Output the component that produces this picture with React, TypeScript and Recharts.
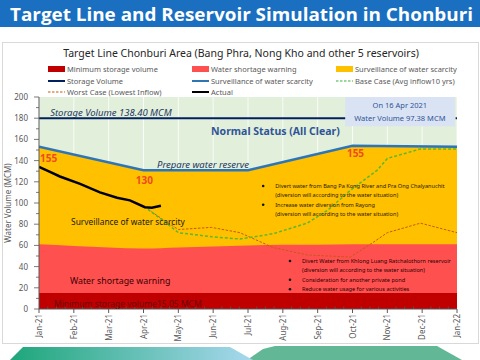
import {
  ComposedChart,
  Area,
  Line,
  XAxis,
  YAxis,
  CartesianGrid,
  ReferenceLine,
  ReferenceArea,
  ReferenceDot,
} from 'recharts';

// x values are months since 1 Jan 2021 (0 = Jan-21, 12 = Jan-22)
const monthLabels = ['Jan-21', 'Feb-21', 'Mar-21', 'Apr-21', 'May-21', 'Jun-21', 'Jul-21', 'Aug-21', 'Sep-21', 'Oct-21', 'Nov-21', 'Dec-21', 'Jan-22'];
const yTicks = [0, 10, 20, 30, 40, 50, 60, 70, 80, 90, 100, 110, 120, 130, 140, 150, 160, 170, 180, 190, 200];

// upper target line (Surveillance of water scarcity)
const targetMonths = [0, 3, 6, 9, 12];
const targetVolume = [153, 131, 131, 154, 153];

// upper edge of the water shortage warning zone
const warnMonths = [0, 1, 2, 3, 4, 5, 6, 7, 8, 9, 10, 11, 12];
const warnVolume = [61, 59.5, 58, 57, 58, 59, 60, 60.5, 60.5, 61, 61, 61, 61];

const minMonths = [0, 12];
const minVolume = [15.05, 15.05];

const storageVolume = 180;

const actualMonths = [0, 0.3, 0.6, 1.18, 1.75, 2.24, 2.61, 3.04, 3.24, 3.5];
const actualVolume = [134, 129.5, 125, 118, 110, 105, 102.5, 96, 95.5, 97.38];

const baseMonths = [3.13, 3.62, 4.0, 5.0, 5.77, 6.72, 7.7, 8.28, 8.94, 9.71, 10.0, 10.95, 12];
const baseVolume = [94, 82, 72, 68, 66, 71, 81, 93, 112, 131, 142, 151, 151];

const worstMonths = [3.13, 3.62, 4.0, 4.95, 5.77, 6.72, 7.7, 8.94, 9.6, 10.0, 10.95, 12];
const worstVolume = [94, 83, 75, 77, 72, 58, 51, 49, 63, 72, 81, 72];

const yellowActions = [
  'Divert water from Bang Pa Kong River and Pra Ong Chalyanuchit',
  '(diversion will according to the water situation)',
  'Increase water diversion from Rayong',
  '(diversion will according to the water situation)',
];
const yellowBullets = [true, false, true, false];
const redActions = [
  'Divert Water from Khlong Luang Ratchalothorn reservoir',
  '(diversion will according to the water situation)',
  'Consideration for another private pond',
  'Reduce water usage for various activities',
];
const redBullets = [true, false, true, true];

const toPoints = (xs: number[], ys: number[]) => xs.map((m, i) => ({ m, v: ys[i] }));

const minorTicks = Array.from({ length: 49 }, (_, i) => i / 4);
const monthTicks = monthLabels.map((_, i) => i);

const FONT = '"Noto Sans", "Open Sans", sans-serif';
const AXIS_GREY = '#595959';

const XTick = ({ x, y, payload }: any) => {
  const v = payload.value;
  const major = Number.isInteger(v);
  if (!major) {
    return <line x1={x} x2={x} y1={y} y2={y - 2.5} stroke={AXIS_GREY} strokeWidth={0.8} />;
  }
  return (
    <g>
      <line x1={x} x2={x} y1={y} y2={y + 4} stroke={AXIS_GREY} strokeWidth={1} />
      <text
        transform={`translate(${x + 3},${y + 5}) rotate(-90)`}
        textAnchor="end"
        fontSize={8}
        fill={AXIS_GREY}
        fontFamily={FONT}
      >
        {monthLabels[v]}
      </text>
    </g>
  );
};

const YTick = ({ x, y, payload }: any) => {
  const v = payload.value;
  const major = v % 20 === 0;
  return (
    <g>
      <line x1={x} x2={x - (major ? 5 : 3)} y1={y} y2={y} stroke={AXIS_GREY} strokeWidth={0.8} />
      {major && (
        <text x={x - 11} y={y + 3} textAnchor="end" fontSize={8} fill={AXIS_GREY} fontFamily={FONT}>
          {v}
        </text>
      )}
    </g>
  );
};

const note = (text: string, style: any) => (p: any) => (
  <text x={p.cx} y={p.cy} fontFamily={FONT} {...style}>
    {text}
  </text>
);

const actionList = (lines: string[], bullets: boolean[], color: string) => (p: any) => (
  <g fontFamily={FONT} fill={color}>
    {lines.map((l, i) => (
      <g key={i}>
        {bullets[i] && (
          <circle cx={p.cx - 12} cy={p.cy + i * 9.4 - 2} r={1.3} fill="#111" />
        )}
        <text x={p.cx} y={p.cy + i * 9.4} fontSize={5.6}>
          {l}
        </text>
      </g>
    ))}
  </g>
);

const infoBox = (p: any) => (
  <g fontFamily={FONT} fill="#2f5597" fontSize={7.5} textAnchor="middle">
    <text x={p.cx} y={p.cy}>On 16 Apr 2021</text>
    <text x={p.cx} y={p.cy + 13}>Water Volume 97.38 MCM</text>
  </g>
);

const legendRows = [
  [
    { kind: 'rect', color: '#c00000', label: 'Minimum storage volume' },
    { kind: 'rect', color: '#ff5050', label: 'Water shortage warning' },
    { kind: 'rect', color: '#ffc000', label: 'Surveillance of water scarcity' },
  ],
  [
    { kind: 'line', color: '#002060', label: 'Storage Volume' },
    { kind: 'line', color: '#2e75b6', label: 'Surveillance of water scarcity' },
    { kind: 'dash', color: '#3cae3c', label: 'Base Case (Avg inflow10 yrs)' },
  ],
  [
    { kind: 'dash', color: '#c55a11', label: 'Worst Case (Lowest Inflow)' },
    { kind: 'line', color: '#000000', label: 'Actual' },
  ],
];

function LegendBlock() {
  const colX = [48, 192, 336];
  const rowY = [69, 81, 92];
  return (
    <svg width={480} height={100} style={{ position: 'absolute', left: 0, top: 0 }}>
      {legendRows.map((row, r) =>
        row.map((it, c) => {
          const x = colX[c];
          const y = rowY[r];
          return (
            <g key={`${r}-${c}`}>
              {it.kind === 'rect' && <rect x={x} y={y - 3} width={17} height={6} fill={it.color} />}
              {it.kind === 'line' && <line x1={x} x2={x + 17} y1={y} y2={y} stroke={it.color} strokeWidth={2} />}
              {it.kind === 'dash' && (
                <line x1={x} x2={x + 17} y1={y} y2={y} stroke={it.color} strokeWidth={1} strokeDasharray="2.5 1.5" />
              )}
              <text x={x + 19} y={y + 2.7} fontSize={7.5} fill={AXIS_GREY} fontFamily={FONT}>
                {it.label}
              </text>
            </g>
          );
        })
      )}
    </svg>
  );
}

export default function App() {
  return (
    <div
      style={{
        position: 'absolute',
        left: 0,
        top: 0,
        width: 480,
        height: 360,
        overflow: 'hidden',
        background: '#ffffff',
        fontFamily: FONT,
      }}
    >
      <svg width={480} height={28} style={{ position: 'absolute', left: 0, top: 0 }}>
        <rect x={0} y={0} width={480} height={27} fill="#1a6fc0" />
        <text
          x={10}
          y={21}
          textLength={463}
          lengthAdjust="spacingAndGlyphs"
          fontSize={18.5}
          fontWeight={700}
          fill="#ffffff"
          fontFamily='"Open Sans", sans-serif'
        >
          Target Line and Reservoir Simulation in Chonburi
        </text>
      </svg>

      <div
        style={{
          position: 'absolute',
          left: 2,
          top: 42,
          width: 475,
          height: 300,
          border: '1px solid #d9d9d9',
        }}
      />

      <svg width={480} height={60} style={{ position: 'absolute', left: 0, top: 0 }}>
        <text x={241} y={57} textAnchor="middle" fontSize={10.5} fill="#262626" fontFamily={FONT}>
          Target Line Chonburi Area (Bang Phra, Nong Kho and other 5 reservoirs)
        </text>
      </svg>

      <LegendBlock />

      <div style={{ position: 'absolute', left: 0, top: 0 }}>
        <ComposedChart width={480} height={360} margin={{ top: 97, right: 23, bottom: 21, left: 0 }}>
          <CartesianGrid
            horizontal={false}
            verticalValues={monthTicks}
            stroke="#ffffff"
            strokeOpacity={0.8}
            fill="#e2efda"
            fillOpacity={1}
          />
          <XAxis
            type="number"
            dataKey="m"
            domain={[0, 12]}
            ticks={minorTicks}
            interval={0}
            tickSize={0}
            tickMargin={0}
            tickLine={false}
            tick={<XTick />}
            height={30}
            stroke={AXIS_GREY}
            allowDataOverflow
          />
          <YAxis
            type="number"
            dataKey="v"
            domain={[0, 200]}
            ticks={yTicks}
            interval={0}
            tickSize={0}
            tickMargin={0}
            tickLine={false}
            tick={<YTick />}
            width={39}
            stroke={AXIS_GREY}
            allowDataOverflow
          />
          <Area
            data={toPoints(targetMonths, targetVolume)}
            dataKey="v"
            type="linear"
            fill="#ffc000"
            fillOpacity={1}
            stroke="#2e75b6"
            strokeWidth={2.5}
            isAnimationActive={false}
          />
          <Area
            data={toPoints(warnMonths, warnVolume)}
            dataKey="v"
            type="monotone"
            fill="#ff5050"
            fillOpacity={1}
            stroke="none"
            isAnimationActive={false}
          />
          <Area
            data={toPoints(minMonths, minVolume)}
            dataKey="v"
            type="linear"
            fill="#c00000"
            fillOpacity={1}
            stroke="none"
            isAnimationActive={false}
          />
          <ReferenceArea x1={8.79} x2={11.94} y1={172.5} y2={200} fill="#dae3f3" fillOpacity={1} stroke="none" />
          <ReferenceLine
            segment={[{ x: 0, y: storageVolume }, { x: 8.79, y: storageVolume }]}
            stroke="#002060"
            strokeWidth={2}
          />
          <ReferenceLine
            segment={[{ x: 11.96, y: storageVolume }, { x: 12, y: storageVolume }]}
            stroke="#002060"
            strokeWidth={2}
          />
          <Line
            data={toPoints(worstMonths, worstVolume)}
            dataKey="v"
            type="linear"
            stroke="#c55a11"
            strokeWidth={1}
            strokeDasharray="2.5 1.5"
            dot={false}
            isAnimationActive={false}
          />
          <Line
            data={toPoints(baseMonths, baseVolume)}
            dataKey="v"
            type="linear"
            stroke="#5cb82e"
            strokeWidth={1.5}
            strokeDasharray="3 2"
            dot={false}
            isAnimationActive={false}
          />
          <Line
            data={toPoints(actualMonths, actualVolume)}
            dataKey="v"
            type="linear"
            stroke="#000000"
            strokeWidth={2.5}
            dot={false}
            isAnimationActive={false}
          />

          <ReferenceDot x={0.32} y={182} r={0} shape={note('Storage Volume 138.40 MCM', { fontSize: 9.5, fontStyle: 'italic', fill: '#1f3864' })} />
          <ReferenceDot x={4.94} y={164} r={0} shape={note('Normal Status (All Clear)', { fontSize: 10.5, fontWeight: 700, fill: '#2f5597' })} />
          <ReferenceDot x={0.03} y={138.7} r={0} shape={note('155', { fontSize: 10, fontWeight: 700, fill: '#ee4b1f' })} />
          <ReferenceDot x={2.78} y={118} r={0} shape={note('130', { fontSize: 10, fontWeight: 700, fill: '#ee4b1f' })} />
          <ReferenceDot x={8.84} y={143.4} r={0} shape={note('155', { fontSize: 10, fontWeight: 700, fill: '#ee4b1f' })} />
          <ReferenceDot x={3.39} y={133} r={0} shape={note('Prepare water reserve', { fontSize: 9.5, fontStyle: 'italic', fill: '#1f3864' })} />
          <ReferenceDot x={0.92} y={79} r={0} shape={note('Surveillance of water scarcity', { fontSize: 8.4, fill: '#1a1a1a' })} />
          <ReferenceDot x={0.89} y={23.6} r={0} shape={note('Water shortage warning', { fontSize: 8.8, fill: '#3a0000' })} />
          <ReferenceDot x={0.43} y={1.9} r={0} shape={note('Minimum storage volume15.05 MCM', { fontSize: 8.5, fill: '#6e0000' })} />
          <ReferenceDot x={6.78} y={114.2} r={0} shape={actionList(yellowActions, yellowBullets, '#2a1a00')} />
          <ReferenceDot x={7.55} y={43.4} r={0} shape={actionList(redActions, redBullets, '#2a0000')} />
          <ReferenceDot x={10.36} y={189.6} r={0} shape={infoBox} />
        </ComposedChart>
      </div>

      <svg width={480} height={360} style={{ position: 'absolute', left: 0, top: 0, pointerEvents: 'none' }}>
        <text
          transform="translate(11,203) rotate(-90)"
          textAnchor="middle"
          fontSize={8}
          fill={AXIS_GREY}
          fontFamily={FONT}
        >
          Water Volume (MCM)
        </text>
        <defs>
          <linearGradient id="decor-left" x1="0" y1="0" x2="1" y2="0">
            <stop offset="0%" stopColor="#1ea67a" />
            <stop offset="100%" stopColor="#a8d8ee" />
          </linearGradient>
        </defs>
        <polygon points="263,349 275,346 437,346 462,360 247,360" fill="#62b896" />
        <polygon points="23,347 230,347 253,360 10,360" fill="url(#decor-left)" />
      </svg>
    </div>
  );
}
